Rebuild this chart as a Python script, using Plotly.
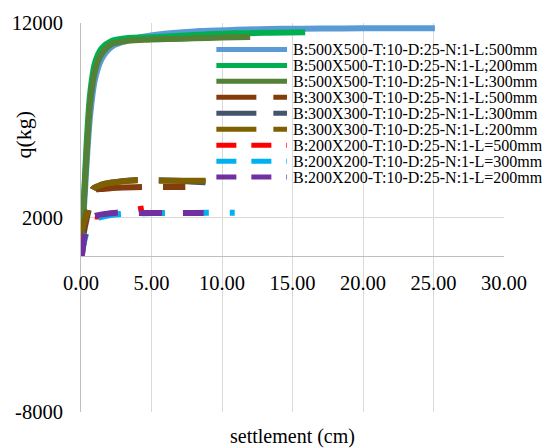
import plotly.graph_objects as go

# ---- load–settlement records: settlement (cm), load q (kg) ----
s_b500_l500 = [0, 0.1, 0.25, 0.4, 0.64, 0.99, 1.46, 2.17, 3.35, 4.76, 6.5, 8.5, 11.0, 14.2, 17.0, 20.0, 23.0, 25.1]
q_b500_l500 = [0, 1200, 3000, 4800, 7200, 9100, 10150, 10780, 11120, 11330, 11480, 11590, 11650, 11700, 11715, 11725, 11730, 11735]

s_b500_l200 = [0, 0.1, 0.25, 0.4, 0.64, 0.99, 1.46, 2.17, 3.35, 4.76, 8.0, 11.0, 13.5, 15.9]
q_b500_l200 = [0, 1500, 3600, 5800, 8300, 9950, 10700, 11080, 11230, 11260, 11380, 11470, 11500, 11520]

s_b500_l300 = [0, 0.08, 0.17, 0.4, 0.64, 0.99, 1.46, 2.17, 3.35, 4.76, 6.5, 8.0, 10.0, 12.0]
q_b500_l300 = [0, 1150, 2370, 5280, 7850, 9550, 10410, 10920, 11080, 11140, 11180, 11210, 11250, 11280]

s_b300_l500 = [0, 0.15, 0.45, 0.8, 0.99, 1.5, 2.2, 3.0, 4.4, 5.9, 7.4]
q_b300_l500 = [0, 1000, 2100, 3050, 3400, 3470, 3510, 3540, 3565, 3570, 3570]

s_b300_l300 = [0, 0.1, 0.5, 0.85, 1.2, 1.7, 2.9, 4.2, 5.6, 7.5, 9.0]
q_b300_l300 = [0, 1250, 2450, 3470, 3610, 3740, 3870, 3935, 3915, 3870, 3800]

s_b300_l200 = [0, 0.05, 0.52, 0.88, 1.2, 1.67, 2.87, 4.16, 5.6, 7.2, 8.9]
q_b300_l200 = [0, 1280, 2470, 3487, 3610, 3723, 3846, 3913, 3895, 3890, 3890]

s_b200_l500 = [0.05, 0.15, 0.3, 0.55, 0.85, 1.2, 1.8, 2.5, 3.3, 4.0, 4.45]
q_b200_l500 = [0, 600, 1150, 1700, 2050, 2050, 2150, 2230, 2330, 2420, 2470]

s_b200_l300 = [0.05, 0.2, 0.4, 0.65, 0.99, 1.4, 2.0, 2.8, 3.8, 5.0, 7.0, 9.0, 10.9]
q_b200_l300 = [0, 700, 1250, 1650, 1900, 2020, 2110, 2180, 2210, 2225, 2235, 2240, 2245]

s_b200_l200 = [0.05, 0.15, 0.28, 0.5, 0.75, 0.99, 1.5, 2.0, 2.52, 3.3, 4.05, 5.7, 7.1, 8.7]
q_b200_l200 = [0, 550, 1100, 1600, 1900, 2080, 2160, 2210, 2250, 2245, 2235, 2230, 2230, 2230]

series_names = [
    "B:500X500-T:10-D:25-N:1-L:500mm",
    "B:500X500-T:10-D:25-N:1-L;200mm",
    "B:500X500-T:10-D:25-N:1-L:300mm",
    "B:300X300-T:10-D:25-N:1-L:500mm",
    "B:300X300-T:10-D:25-N:1-L:300mm",
    "B:300X300-T:10-D:25-N:1-L:200mm",
    "B:200X200-T:10-D:25-N:1-L=500mm",
    "B:200X200-T:10-D:25-N:1-L=300mm",
    "B:200X200-T:10-D:25-N:1-L=200mm",
]
series_x = [s_b500_l500, s_b500_l200, s_b500_l300,
            s_b300_l500, s_b300_l300, s_b300_l200,
            s_b200_l500, s_b200_l300, s_b200_l200]
series_y = [q_b500_l500, q_b500_l200, q_b500_l300,
            q_b300_l500, q_b300_l300, q_b300_l200,
            q_b200_l500, q_b200_l300, q_b200_l200]

x_tick_vals = [0, 5, 10, 15, 20, 25, 30]
y_tick_vals = [-8000, 2000, 12000]
y_tick_text = ["-8000", "2000", "12000"]

# ---- styling ----
colors = ["#5b9bd5", "#00b050", "#538135",
          "#843c0c", "#44546a", "#7f6000",
          "#ff0000", "#00b0f0", "#7030a0"]
data_dash = ["solid"] * 3 + ["47px,21px"] * 3 + ["23px,21px"] * 3
key_dash = ["solid"] * 3 + ["40px,17px"] * 3 + ["20px,15px"] * 3
FONT = "Liberation Serif, Times New Roman, Times, serif"

W, H = 542, 448
M = dict(l=79, r=38, t=22, b=36)
PW, PH = W - M["l"] - M["r"], H - M["t"] - M["b"]


def px(x):
    return (x - M["l"]) / PW


def py(y):
    return (H - M["b"] - y) / PH


fig = go.Figure()
for name, xs, ys, c, d in zip(series_names, series_x, series_y, colors, data_dash):
    fig.add_trace(go.Scatter(
        x=xs, y=ys, name=name, mode="lines",
        line=dict(color=c, width=6, dash=d, shape="spline", smoothing=0.8),
        showlegend=False, hoverinfo="skip"))

# key box: white panel over the grid, with a sample line and label per series
ROW0, ROW_STEP = 48.5, 16.0
shapes = [dict(type="rect", xref="paper", yref="paper", layer="between",
               x0=px(209), x1=px(542), y0=py(37), y1=py(184),
               fillcolor="white", line=dict(width=0))]
annotations = []
for i, (name, c, d) in enumerate(zip(series_names, colors, key_dash)):
    yc = ROW0 + i * ROW_STEP
    shapes.append(dict(type="line", xref="paper", yref="paper", layer="above",
                       x0=px(215), x1=px(286), y0=py(yc), y1=py(yc),
                       line=dict(color=c, width=5, dash=d)))
    annotations.append(dict(text=name, xref="paper", yref="paper",
                            x=px(291), y=py(yc), xanchor="left", yanchor="middle",
                            height=15, borderpad=0, valign="middle",
                            showarrow=False, font=dict(family=FONT, size=16, color="black")))

annotations.append(dict(text="q(kg)", xref="paper", yref="paper",
                        x=px(21.5), y=py(134), textangle=-90,
                        xanchor="center", yanchor="middle", showarrow=False,
                        font=dict(family=FONT, size=22, color="black")))
annotations.append(dict(text="settlement (cm)", xref="paper", yref="paper",
                        x=px(291.8), y=py(437), xanchor="center", yanchor="middle",
                        showarrow=False, font=dict(family=FONT, size=20, color="black")))

fig.update_layout(
    width=W, height=H, margin=M,
    paper_bgcolor="white", plot_bgcolor="white",
    font=dict(family=FONT, size=20, color="black"),
    shapes=shapes, annotations=annotations,
    xaxis=dict(range=[0, 30], tickvals=x_tick_vals, tickformat=".2f",
               showgrid=True, gridcolor="#d9d9d9", gridwidth=1,
               zeroline=False, showline=True, linecolor="#bfbfbf", linewidth=1,
               anchor="free", position=0.4, ticks="", ticklabelstandoff=8,
               tickfont=dict(family=FONT, size=20.5, color="black")),
    yaxis=dict(range=[-8000, 12000], tickvals=y_tick_vals, ticktext=y_tick_text,
               showgrid=True, gridcolor="#d9d9d9", gridwidth=1,
               zeroline=False, showline=True, linecolor="#bfbfbf", linewidth=1,
               ticks="", ticklabelstandoff=13,
               tickfont=dict(family=FONT, size=20.5, color="black")),
)

fig.write_html("out.html")
